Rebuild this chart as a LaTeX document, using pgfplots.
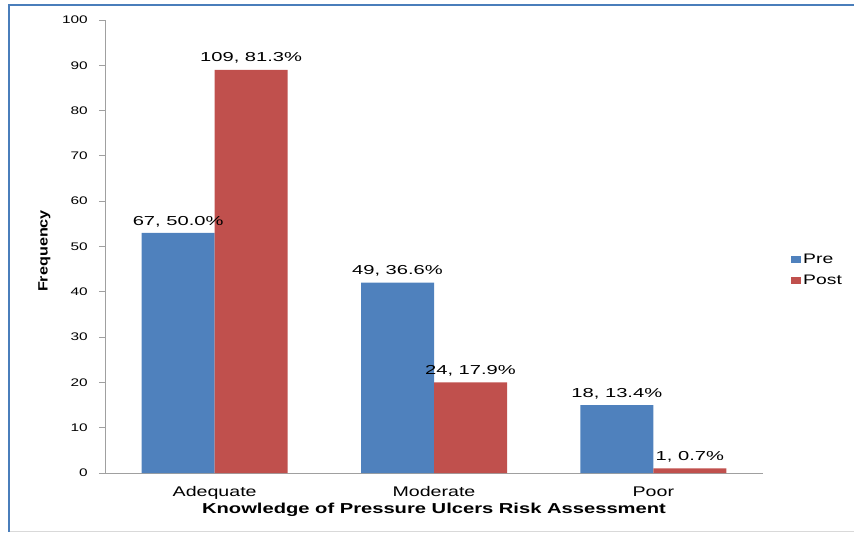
\documentclass[border=0pt]{standalone}
\usepackage{pgfplots}
\pgfplotsset{compat=1.18}
\usepackage{pgfplotstable}
\usepackage{graphicx}
\usepackage{fontspec}
\setmainfont{Liberation Sans}

\definecolor{preblue}{HTML}{4F81BD}
\definecolor{postred}{HTML}{C0504D}
\definecolor{frameblue}{HTML}{4A7EBB}
\definecolor{axisgray}{HTML}{A0A0A0}

% text in this chart is set slightly extended
\newcommand\wide[1]{\scalebox{1.4}[1]{#1}}
\newcommand\widelabel[1]{\scalebox{1.55}[1]{#1}}

% cat: category index, h: bar height, n: count, p: percentage
\pgfplotstableread{
cat h n p
0 53 67 50.0
1 42 49 36.6
2 15 18 13.4
}\pretable
\pgfplotstableread{
cat h n p
0 89 109 81.3
1 20 24 17.9
2 1 1 0.7
}\posttable

\begin{document}
\begin{tikzpicture}[x=1pt,y=1pt]
\path[use as bounding box] (0,0) rectangle (854,533);
\draw[line width=2pt, frameblue] (8.5,1.5) -- (8.5,528) -- (854,528);
\draw[line width=1pt, black!15] (9.5,1.5) -- (854,1.5);
\begin{axis}[
  at={(105pt,60pt)}, anchor=south west,
  scale only axis, width=658pt, height=453pt,
  xmin=-0.5, xmax=2.5, ymin=0, ymax=100,
  ybar=0pt, bar width=73pt,
  axis lines=left,
  axis line style={-, axisgray, line width=0.8pt},
  tick align=outside,
  major tick length=6pt,
  y tick style={axisgray, line width=0.8pt},
  x tick style={draw=none},
  ytick={0,10,...,100},
  yticklabel={\wide{\pgfmathprintnumber[assume math mode=true]{\tick}}},
  y tick label style={font=\fontsize{11}{12}\selectfont, anchor=east, inner sep=0pt, xshift=-11pt},
  xtick={0,1,2},
  xticklabels={\wide{Adequate},\wide{Moderate},\wide{Poor}},
  x tick label style={font=\fontsize{14}{16}\selectfont, anchor=base, inner sep=0pt, yshift=-17pt},
  xlabel={\wide{\bfseries Knowledge of Pressure Ulcers Risk Assessment}},
  xlabel style={font=\fontsize{14.4}{16}\selectfont, at={(axis description cs:0.5,-0.0817)}, anchor=center},
  ylabel={\scalebox{1.2}[1]{\bfseries Frequency}},
  ylabel style={font=\fontsize{13.5}{15}\selectfont, at={(axis description cs:-0.092,0.49)}, anchor=center},
  visualization depends on={\thisrow{n}\as\cnt},
  visualization depends on={\thisrow{p}\as\pct},
  nodes near coords={\widelabel{\pgfmathprintnumber[fixed, precision=0, assume math mode=true]{\cnt},
    \pgfmathprintnumber[fixed, fixed zerofill, precision=1, assume math mode=true]{\pct}\%}},
  nodes near coords style={font=\fontsize{13}{15}\selectfont, anchor=south, inner sep=0pt, yshift=6pt, black},
  legend style={at={(axis description cs:1.0426,0.449)}, anchor=west, draw=none, fill=none,
    inner sep=0pt, row sep=6pt, font=\fontsize{13.8}{15}\selectfont},
  legend cell align=left,
]
\addplot[fill=preblue, draw=none,
  legend image code/.code={\fill[preblue] (0pt,-3.5pt) rectangle (10pt,3.5pt);}]
  table[x=cat, y=h] {\pretable};
\addlegendentry{\wide{Pre}}
\addplot[fill=postred, draw=none,
  legend image code/.code={\fill[postred] (0pt,-3.5pt) rectangle (10pt,3.5pt);}]
  table[x=cat, y=h] {\posttable};
\addlegendentry{\wide{Post}}
\end{axis}
\end{tikzpicture}
\end{document}
